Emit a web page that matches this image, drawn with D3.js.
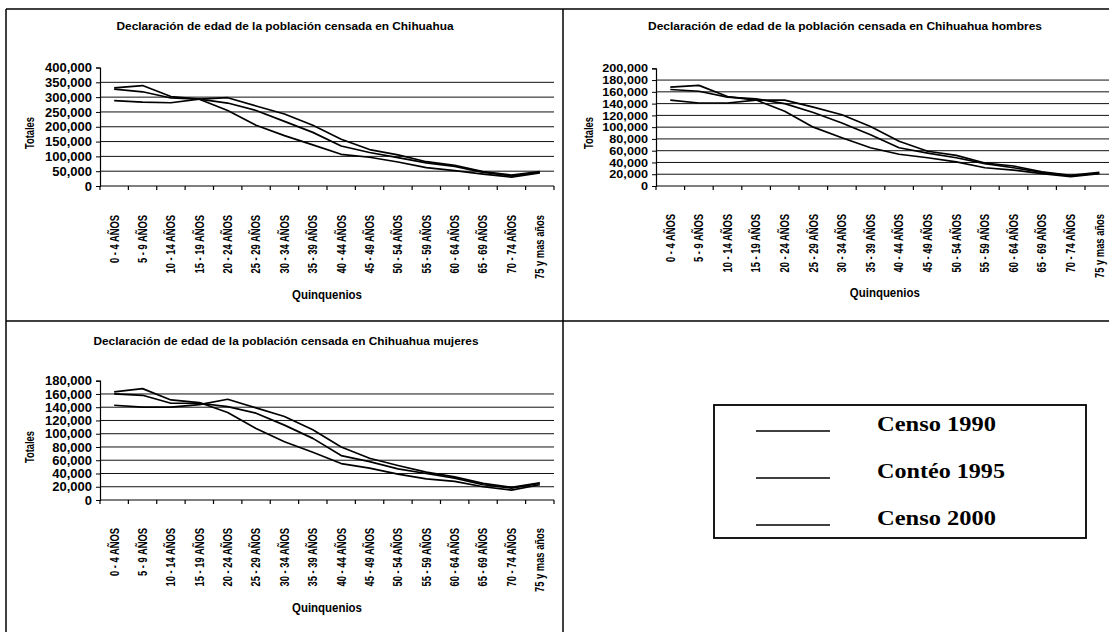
<!DOCTYPE html>
<html><head><meta charset="utf-8">
<script src="https://cdn.jsdelivr.net/npm/d3@7"></script>
<style>body{margin:0;background:#fff}svg{display:block}</style>
</head><body>
<svg id="c" width="1109" height="632"></svg>
<script>
// ---------------- DATA ----------------
const categories = ["0 - 4 AÑOS","5 - 9 AÑOS","10 - 14 AÑOS","15 - 19 AÑOS","20 - 24 AÑOS","25 - 29 AÑOS","30 - 34 AÑOS","35 - 39 AÑOS","40 - 44 AÑOS","45 - 49 AÑOS","50 - 54 AÑOS","55 - 59 AÑOS","60 - 64 AÑOS","65 - 69 AÑOS","70 - 74 AÑOS","75 y mas años"];
const seriesNames = ["Censo 1990","Contéo 1995","Censo 2000"];

const total1990 = [331000,339000,302000,293000,255000,205000,170000,139000,107000,97000,81000,62000,52000,40000,30000,44000];
const total1995 = [327000,318000,297000,293000,280000,255000,218000,181000,135000,113000,96000,78000,66000,46000,34000,46000];
const total2000 = [288000,283000,281000,293000,298000,270000,243000,205000,158000,123000,105000,82000,70000,49000,37000,49000];

const hombres1990 = [168000,171000,152000,146000,127000,100000,82000,65000,54000,48000,41000,31000,27000,21000,16000,21000];
const hombres1995 = [164000,161000,151000,148000,140000,125000,107000,87000,65000,56000,48000,38000,31000,23000,17000,22000];
const hombres2000 = [146000,141000,141000,146000,146000,134000,121000,101000,76000,59000,52000,39000,34000,24000,18000,23000];

const mujeres1990 = [163000,168000,151000,147000,132000,108000,88000,72000,55000,48000,39000,32000,28000,20000,15000,23000];
const mujeres1995 = [160000,158000,146000,146000,141000,131000,113000,93000,67000,58000,47000,40000,33000,23000,18000,25000];
const mujeres2000 = [143000,140000,140000,144000,152000,139000,126000,106000,80000,63000,52000,42000,35000,25000,19000,26000];

const totalTicks = [0,50000,100000,150000,200000,250000,300000,350000,400000];
const hombresTicks = [0,20000,40000,60000,80000,100000,120000,140000,160000,180000,200000];
const mujeresTicks = [0,20000,40000,60000,80000,100000,120000,140000,160000,180000];

const titles = [
  "Declaración de edad de la población censada en Chihuahua",
  "Declaración de edad de la población censada en Chihuahua hombres",
  "Declaración de edad de la población censada en Chihuahua mujeres"
];
const yAxisTitle = "Totales";
const xAxisTitle = "Quinquenios";

// ---------------- DRAW ----------------
const svg = d3.select("#c");
const SANS = "'Liberation Sans', Arial, sans-serif";
const SERIF = "'Liberation Serif', 'Times New Roman', serif";

// panel frame
const frame = svg.append("g").attr("stroke","#000").attr("stroke-width",1.5).attr("fill","none");
frame.append("line").attr("x1",6).attr("y1",9).attr("x2",1109).attr("y2",9);
frame.append("line").attr("x1",6).attr("y1",9).attr("x2",6).attr("y2",632);
frame.append("line").attr("x1",563).attr("y1",9).attr("x2",563).attr("y2",632);
frame.append("line").attr("x1",6).attr("y1",321).attr("x2",1109).attr("y2",321);

function condense(sel, k){
  sel.each(function(){
    const w = this.getComputedTextLength();
    d3.select(this).attr("textLength", w*k).attr("lengthAdjust","spacingAndGlyphs");
  });
}

function drawChart(c){
  const g = svg.append("g");
  const x = d3.scaleBand().domain(categories).range([c.x0, c.x1]);
  const y = d3.scaleLinear().domain([0, c.ticks[c.ticks.length-1]]).range([c.yBot, c.yTop]);
  const bw = x.bandwidth();

  // title
  g.append("text").attr("x",c.titleX).attr("y",c.titleY)
    .attr("text-anchor","middle").attr("font-family",SANS).attr("font-weight","bold")
    .attr("font-size",11).attr("textLength",c.titleW).attr("lengthAdjust","spacingAndGlyphs")
    .text(c.title);

  // gridlines
  g.append("g").selectAll("line").data(c.ticks.slice(1,-1)).join("line")
    .attr("x1",c.x0).attr("x2",c.x1).attr("y1",d=>y(d)).attr("y2",d=>y(d))
    .attr("stroke","#111").attr("stroke-width",1);

  // y axis
  const ya = g.append("g").attr("transform",`translate(${c.x0},0)`)
    .call(d3.axisLeft(y).tickValues(c.ticks).tickSize(4).tickPadding(4).tickFormat(d3.format(",")));
  ya.select(".domain").attr("stroke","#000").attr("stroke-width",1.2);
  ya.selectAll(".tick line").attr("stroke","#000");
  const yt = ya.selectAll("text").attr("font-family",SANS).attr("font-weight","bold")
    .attr("font-size",c.yFont).attr("fill","#000");
  if (c.yStretch) condense(yt, c.yStretch);

  // x axis line + tick marks at category edges
  g.append("line").attr("x1",c.x0).attr("x2",c.x1).attr("y1",c.yBot).attr("y2",c.yBot)
    .attr("stroke","#000").attr("stroke-width",1.2);
  const edges = categories.map(d=>x(d)).concat([x(categories[categories.length-1])+bw]);
  g.append("g").selectAll("line").data(edges).join("line")
    .attr("x1",d=>d).attr("x2",d=>d).attr("y1",c.yBot).attr("y2",c.yBot+4)
    .attr("stroke","#000").attr("stroke-width",1.2);

  // x labels (rotated)
  const xl = g.append("g").selectAll("text").data(categories).join("text")
    .attr("transform",d=>`translate(${x(d)+bw/2},${c.xlabTop}) rotate(-90)`)
    .attr("dy","0.36em").attr("text-anchor","end")
    .attr("font-family",SANS).attr("font-weight","bold").attr("font-size",12)
    .text(d=>d);
  condense(xl, 0.78);

  // axis titles
  g.append("text").attr("transform",`translate(${c.totX},${c.totY}) rotate(-90)`)
    .attr("dy","0.36em").attr("text-anchor","middle")
    .attr("font-family",SANS).attr("font-weight","bold").attr("font-size",12)
    .attr("textLength",32).attr("lengthAdjust","spacingAndGlyphs").text(yAxisTitle);
  g.append("text").attr("x",(c.x0+c.x1)/2).attr("y",c.quinY).attr("text-anchor","middle")
    .attr("font-family",SANS).attr("font-weight","bold").attr("font-size",12)
    .attr("textLength",70).attr("lengthAdjust","spacingAndGlyphs").text(xAxisTitle);

  // series lines
  const line = d3.line().x((d,i)=>x(categories[i])+bw/2).y(d=>y(d));
  g.append("g").selectAll("path").data(c.series).join("path")
    .attr("d",d=>line(d)).attr("fill","none").attr("stroke","#000")
    .attr("stroke-width",1.7).attr("stroke-linejoin","round");
}

drawChart({title:titles[0], x0:100, x1:554, yTop:67.5, yBot:186, ticks:totalTicks,
  titleX:285, titleY:30, titleW:337, xlabTop:215, totX:30, totY:133, quinY:299, yFont:13,
  series:[total1990,total1995,total2000]});
drawChart({title:titles[1], x0:656, x1:1113.6, yTop:68.3, yBot:186, ticks:hombresTicks,
  titleX:845, titleY:30, titleW:394, xlabTop:214, totX:589, totY:133, quinY:297, yFont:11.5, yStretch:1.1,
  series:[hombres1990,hombres1995,hombres2000]});
drawChart({title:titles[2], x0:100, x1:554, yTop:380.7, yBot:500, ticks:mujeresTicks,
  titleX:286, titleY:344.5, titleW:385, xlabTop:528, totX:30, totY:447, quinY:612, yFont:13,
  series:[mujeres1990,mujeres1995,mujeres2000]});

// legend
const lg = svg.append("g");
lg.append("rect").attr("x",714).attr("y",405).attr("width",372).attr("height",133)
  .attr("fill","none").attr("stroke","#000").attr("stroke-width",1.8);
const legY = d3.scalePoint().domain(seriesNames).range([0,94]);
const item = lg.selectAll("g.it").data(seriesNames).join("g").attr("class","it")
  .attr("transform",d=>`translate(0,${legY(d)})`);
item.append("line").attr("x1",756).attr("x2",830).attr("y1",431).attr("y2",431)
  .attr("stroke","#000").attr("stroke-width",1.6);
item.append("text").attr("x",877).attr("y",431).attr("font-family",SERIF)
  .attr("font-weight","bold").attr("font-size",22)
  .attr("textLength",(d,i)=>i===1?128:119).attr("lengthAdjust","spacingAndGlyphs")
  .text(d=>d);
</script>
</body></html>
